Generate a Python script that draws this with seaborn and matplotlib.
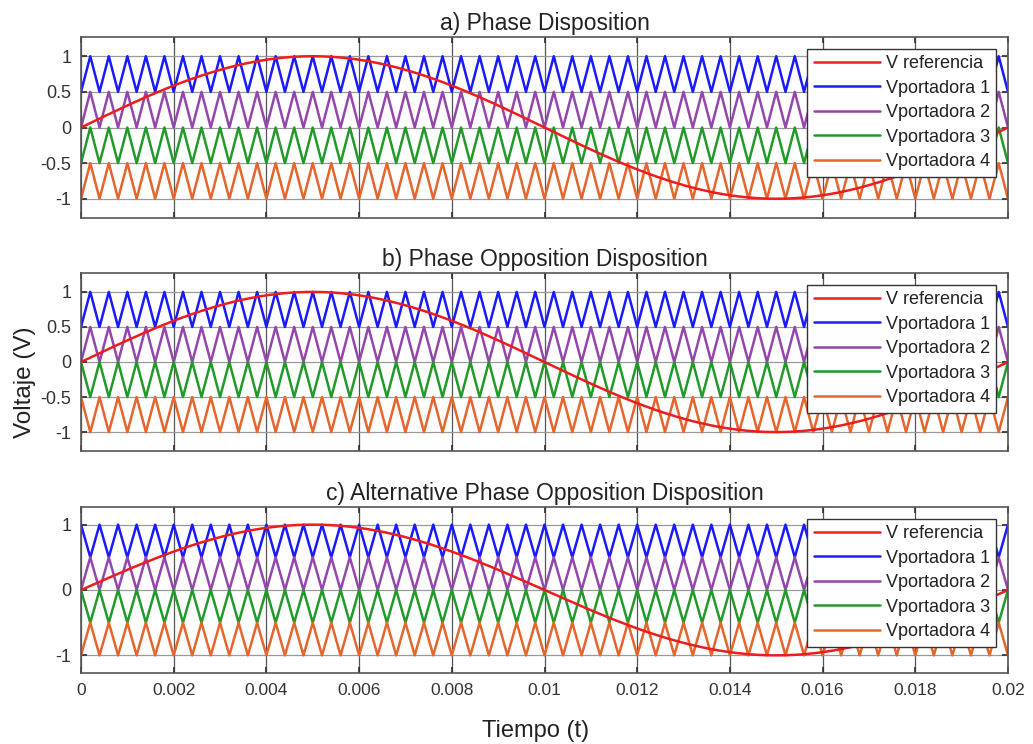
import numpy as np
import pandas as pd
import matplotlib
matplotlib.use("Agg")
import matplotlib.pyplot as plt
import seaborn as sns

# ---- data parameters ----
titles = ["a) Phase Disposition", "b) Phase Opposition Disposition",
          "c) Alternative Phase Opposition Disposition"]
series_names = ["V referencia", "Vportadora 1", "Vportadora 2", "Vportadora 3", "Vportadora 4"]
colors = ["#ee1c1c", "#1a1aff", "#9446ad", "#229a2a", "#e5652c"]
f_ref = 50.0            # Hz, reference sine
ref_amp = 1.0
f_carrier = 2500.0      # Hz, 50 cycles in 0.02 s
t_end = 0.02
band_low = [0.5, 0.0, -0.5, -1.0]     # bottom of each carrier band
band_high = [1.0, 0.5, 0.0, -0.5]     # top of each carrier band
# starting state of each carrier at t=0 (0 = starts at bottom, 1 = starts at top)
start_state = {
    "a": [0, 0, 0, 0],
    "b": [0, 0, 1, 1],
    "c": [1, 0, 1, 0],
}
yticks_sets = [[-1, -0.5, 0, 0.5, 1], [-1, -0.5, 0, 0.5, 1], [-1, 0, 1]]
ytick_labels = [["-1", "-0.5", "0", "0.5", "1"], ["-1", "-0.5", "0", "0.5", "1"], ["-1", "0", "1"]]
xticks = [0, 0.002, 0.004, 0.006, 0.008, 0.01, 0.012, 0.014, 0.016, 0.018, 0.02]
xtick_labels = ["0", "0.002", "0.004", "0.006", "0.008", "0.01", "0.012", "0.014", "0.016", "0.018", "0.02"]

sns.set_theme(style="white")
plt.rcParams["font.family"] = ["Liberation Sans", "DejaVu Sans"]

W, H = 1033, 744
fig = plt.figure(figsize=(W / 100, H / 100), dpi=100)

# axes boxes in pixels: (left, top, right, bottom)
boxes = [(81, 37, 1008, 218), (81, 273, 1008, 451), (81, 507, 1008, 673)]

t_ref = np.linspace(0, t_end, 800)
n_half = int(round(2 * f_carrier * t_end))
t_vert = np.arange(n_half + 1) / (2 * f_carrier)

for i, key in enumerate(["a", "b", "c"]):
    l, tp, r, b = boxes[i]
    ax = fig.add_axes([l / W, 1 - b / H, (r - l) / W, (b - tp) / H])
    frames = [pd.DataFrame({"t": t_ref, "v": ref_amp * np.sin(2 * np.pi * f_ref * t_ref),
                            "s": series_names[0]})]
    for k in range(4):
        st = start_state[key][k]
        states = (np.arange(n_half + 1) + st) % 2
        vals = np.where(states == 1, band_high[k], band_low[k])
        frames.append(pd.DataFrame({"t": t_vert, "v": vals, "s": series_names[k + 1]}))
    df = pd.concat(frames, ignore_index=True)
    # draw carriers first, reference on top
    order = series_names[1:] + series_names[:1]
    for name in order:
        sub = df[df["s"] == name]
        sns.lineplot(data=sub, x="t", y="v", ax=ax, color=colors[series_names.index(name)],
                     lw=1.8, estimator=None, sort=False, label=name, legend=False)
    ax.set_xlim(0, t_end)
    ax.set_ylim(-1.27, 1.27)
    ax.set_xticks(xticks)
    ax.set_yticks(yticks_sets[i])
    ax.set_yticklabels(ytick_labels[i], fontsize=13, color="#333333")
    if i == 2:
        ax.set_xticklabels(xtick_labels, fontsize=12.5, color="#333333")
    else:
        ax.set_xticklabels([])
    ax.set_xlabel("")
    ax.set_ylabel("")
    ax.grid(True, axis="x", color="#555555", lw=0.9)
    ax.grid(True, axis="y", color="#999999", lw=0.9)
    ax.tick_params(axis="both", length=4, direction="in", pad=7, color="#333333",
                   top=True, right=True)
    ax.tick_params(left=True, bottom=True)
    for sp in ax.spines.values():
        sp.set_color("#555555")
        sp.set_linewidth(1.2)
    ax.set_title(titles[i], fontsize=16.5, color="#222222", pad=5)
    handles = {h.get_label(): h for h in ax.get_lines()}
    leg = ax.legend([handles[n] for n in series_names], series_names, loc="upper right",
                    fontsize=13, frameon=True, fancybox=False, framealpha=1,
                    edgecolor="#333333", handlelength=3.7, handletextpad=0.3,
                    labelspacing=0.42, borderpad=0.35, borderaxespad=0.65)
    leg.get_frame().set_linewidth(1.0)
    for txt in leg.get_texts():
        txt.set_color("#222222")

fig.text(25 / W, 1 - 382 / H, "Voltaje (V)", rotation=90, ha="center", va="center",
         fontsize=17.5, color="#222222")
fig.text(536 / W, 1 - 731 / H, "Tiempo (t)", ha="center", va="center",
         fontsize=17, color="#222222")

fig.savefig("out.png", dpi=100)
